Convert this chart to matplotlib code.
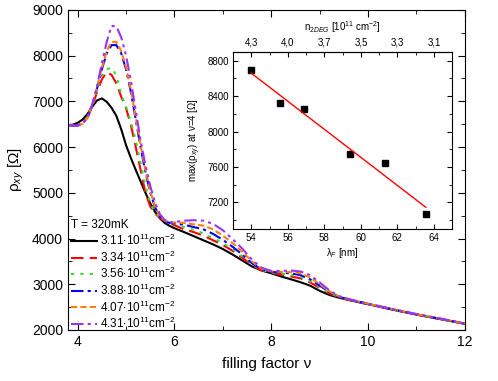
import matplotlib
matplotlib.use("Agg")
import matplotlib.pyplot as plt
import numpy as np
from matplotlib.ticker import MultipleLocator

plt.rcParams['font.family'] = ['Liberation Sans', 'DejaVu Sans']
plt.rcParams['mathtext.fontset'] = 'custom'
plt.rcParams['mathtext.rm'] = 'Liberation Sans'
plt.rcParams['mathtext.it'] = 'Liberation Sans:italic'

# ---------------- data ----------------
nu = [3.8, 3.9, 4.0, 4.1, 4.2, 4.3, 4.4, 4.5, 4.6, 4.7, 4.8, 4.9, 5.0, 5.1, 5.2,
      5.3, 5.4, 5.5, 5.6, 5.7, 5.8, 5.9, 6.0, 6.2, 6.4, 6.6, 6.8, 7.0, 7.2, 7.4,
      7.6, 7.8, 8.0, 8.2, 8.4, 8.6, 8.8, 9.0, 9.2, 9.4, 9.6, 9.8, 10.0, 10.5,
      11.0, 11.5, 12.0]

rho_311 = [6480, 6490, 6530, 6600, 6720, 6880, 7020, 7065, 6990, 6860, 6680, 6390,
           6040, 5760, 5500, 5250, 5000, 4770, 4580, 4440, 4340, 4275, 4225, 4140,
           4050, 3960, 3870, 3770, 3650, 3520, 3390, 3300, 3240, 3170, 3110, 3045,
           2970, 2855, 2765, 2705, 2655, 2608, 2563, 2445, 2335, 2235, 2135]
rho_334 = [6480, 6475, 6480, 6520, 6640, 6880, 7200, 7480, 7640, 7580, 7390, 7100,
           6850, 6480, 6000, 5500, 5000, 4700, 4540, 4450, 4390, 4340, 4290, 4200,
           4140, 4060, 3960, 3860, 3730, 3580, 3420, 3300, 3250, 3210, 3170, 3130,
           3040, 2920, 2800, 2715, 2660, 2612, 2566, 2448, 2338, 2238, 2135]
rho_356 = [6480, 6475, 6480, 6520, 6650, 6900, 7230, 7560, 7700, 7740, 7560, 7150,
           6880, 6550, 6150, 5650, 5150, 4780, 4560, 4460, 4400, 4360, 4320, 4250,
           4190, 4110, 4010, 3900, 3770, 3610, 3440, 3310, 3260, 3235, 3205, 3160,
           3070, 2940, 2810, 2720, 2663, 2615, 2568, 2450, 2340, 2240, 2135]
rho_388 = [6480, 6470, 6470, 6510, 6640, 6900, 7280, 7700, 8050, 8230, 8230, 8050,
           7700, 7200, 6600, 6000, 5450, 5000, 4680, 4480, 4380, 4340, 4330, 4300,
           4250, 4200, 4100, 3970, 3820, 3650, 3460, 3320, 3270, 3255, 3240, 3200,
           3110, 2970, 2830, 2725, 2666, 2618, 2570, 2452, 2342, 2242, 2137]
rho_407 = [6480, 6470, 6470, 6510, 6640, 6910, 7300, 7730, 8100, 8300, 8300, 8100,
           7750, 7250, 6650, 6050, 5500, 5030, 4700, 4490, 4390, 4350, 4350, 4340,
           4310, 4280, 4200, 4060, 3900, 3710, 3500, 3340, 3280, 3270, 3265, 3240,
           3150, 3000, 2845, 2730, 2670, 2620, 2573, 2455, 2345, 2245, 2138]
rho_431 = [6480, 6470, 6470, 6510, 6650, 6930, 7330, 7830, 8300, 8650, 8640, 8400,
           8000, 7450, 6800, 6150, 5600, 5150, 4780, 4530, 4400, 4350, 4360, 4390,
           4400, 4390, 4320, 4180, 3990, 3780, 3540, 3360, 3290, 3290, 3300, 3280,
           3200, 3040, 2865, 2740, 2675, 2624, 2576, 2458, 2348, 2248, 2140]

series_labels = ["3.11", "3.34", "3.56", "3.88", "4.07", "4.31"]
series_values = [rho_311, rho_334, rho_356, rho_388, rho_407, rho_431]

# inset data
lambda_F = [54.0, 55.55, 56.9, 59.4, 61.3, 63.56]
rho_max = [8690, 8322, 8254, 7742, 7641, 7071]
top_tick_pos = [54, 56, 58, 60, 62, 64]
top_tick_labels = ["4,3", "4,0", "3,7", "3,5", "3,3", "3,1"]

# ---------------- styles ----------------
colors = ["black", "#ff0000", "#33dd33", "#0000ff", "#ff8000", "#9933ff"]
styles = ["-", (0, (6, 3)), (0, (1.5, 3)), (0, (6, 2, 1.5, 2)), (0, (3, 1.5)),
          (0, (6, 2, 1.5, 2, 1.5, 2))]

fig = plt.figure(figsize=(4.98, 3.81), dpi=100)
ax = fig.add_axes([0.1365, 0.134, 0.797, 0.84])

for lab, vals, c, ls in zip(series_labels, series_values, colors, styles):
    ax.plot(nu, vals, color=c, linestyle=ls, lw=1.5,
            label=lab + r"$\cdot$10$^{11}$cm$^{-2}$")

ax.set_xlim(3.8, 12)
ax.set_ylim(2000, 9000)
ax.xaxis.set_major_locator(MultipleLocator(2))
ax.xaxis.set_minor_locator(MultipleLocator(1))
ax.yaxis.set_major_locator(MultipleLocator(1000))
ax.yaxis.set_minor_locator(MultipleLocator(500))
ax.tick_params(which='both', direction='in', top=True, right=True, labelsize=10)
ax.tick_params(which='major', length=5)
ax.tick_params(which='minor', length=3)
ax.set_xlabel("filling factor ν", fontsize=11, labelpad=6)
ax.set_ylabel(r"ρ$_{xy}$ [Ω]", fontsize=11, labelpad=4)

leg = ax.legend(loc='upper left', bbox_to_anchor=(-0.005, 0.36), frameon=False,
                title="T = 320mK", fontsize=8.5, title_fontsize=8.5,
                alignment='left', handlelength=2.2, handletextpad=0.3,
                labelspacing=0.12, borderpad=0.2, borderaxespad=0.2)

# ---------------- inset ----------------
axi = fig.add_axes([0.468, 0.399, 0.44, 0.465])
axi.plot(lambda_F, rho_max, 's', color='black', ms=4)
coef = np.polyfit(lambda_F, rho_max, 1)
xfit = np.array([lambda_F[0], lambda_F[-1]])
axi.plot(xfit, np.polyval(coef, xfit), color='red', lw=1)
axi.set_xlim(53, 65)
axi.set_ylim(6900, 8900)
axi.xaxis.set_major_locator(MultipleLocator(2))
axi.xaxis.set_minor_locator(MultipleLocator(1))
axi.yaxis.set_major_locator(MultipleLocator(400))
axi.yaxis.set_minor_locator(MultipleLocator(200))
axi.tick_params(which='both', direction='in', right=True, labelsize=7, pad=3)
axi.tick_params(which='major', length=3.5)
axi.tick_params(which='minor', length=2)
axi.set_xlabel(r"λ$_F$ [nm]", fontsize=7, labelpad=2)
axi.set_ylabel(r"max(ρ$_{xy}$) at ν=4 [Ω]", fontsize=7, labelpad=3)

sec = axi.secondary_xaxis('top')
sec.set_xticks(top_tick_pos)
sec.set_xticklabels(top_tick_labels)
sec.xaxis.set_minor_locator(MultipleLocator(1))
sec.tick_params(which='both', direction='in', labelsize=7, pad=3)
sec.tick_params(which='major', length=3.5)
sec.tick_params(which='minor', length=2)
sec.set_xlabel(r"n$_{2DEG}$ [10$^{11}$ cm$^{-2}$]", fontsize=7, labelpad=5)

fig.savefig("out.png", dpi=100)
